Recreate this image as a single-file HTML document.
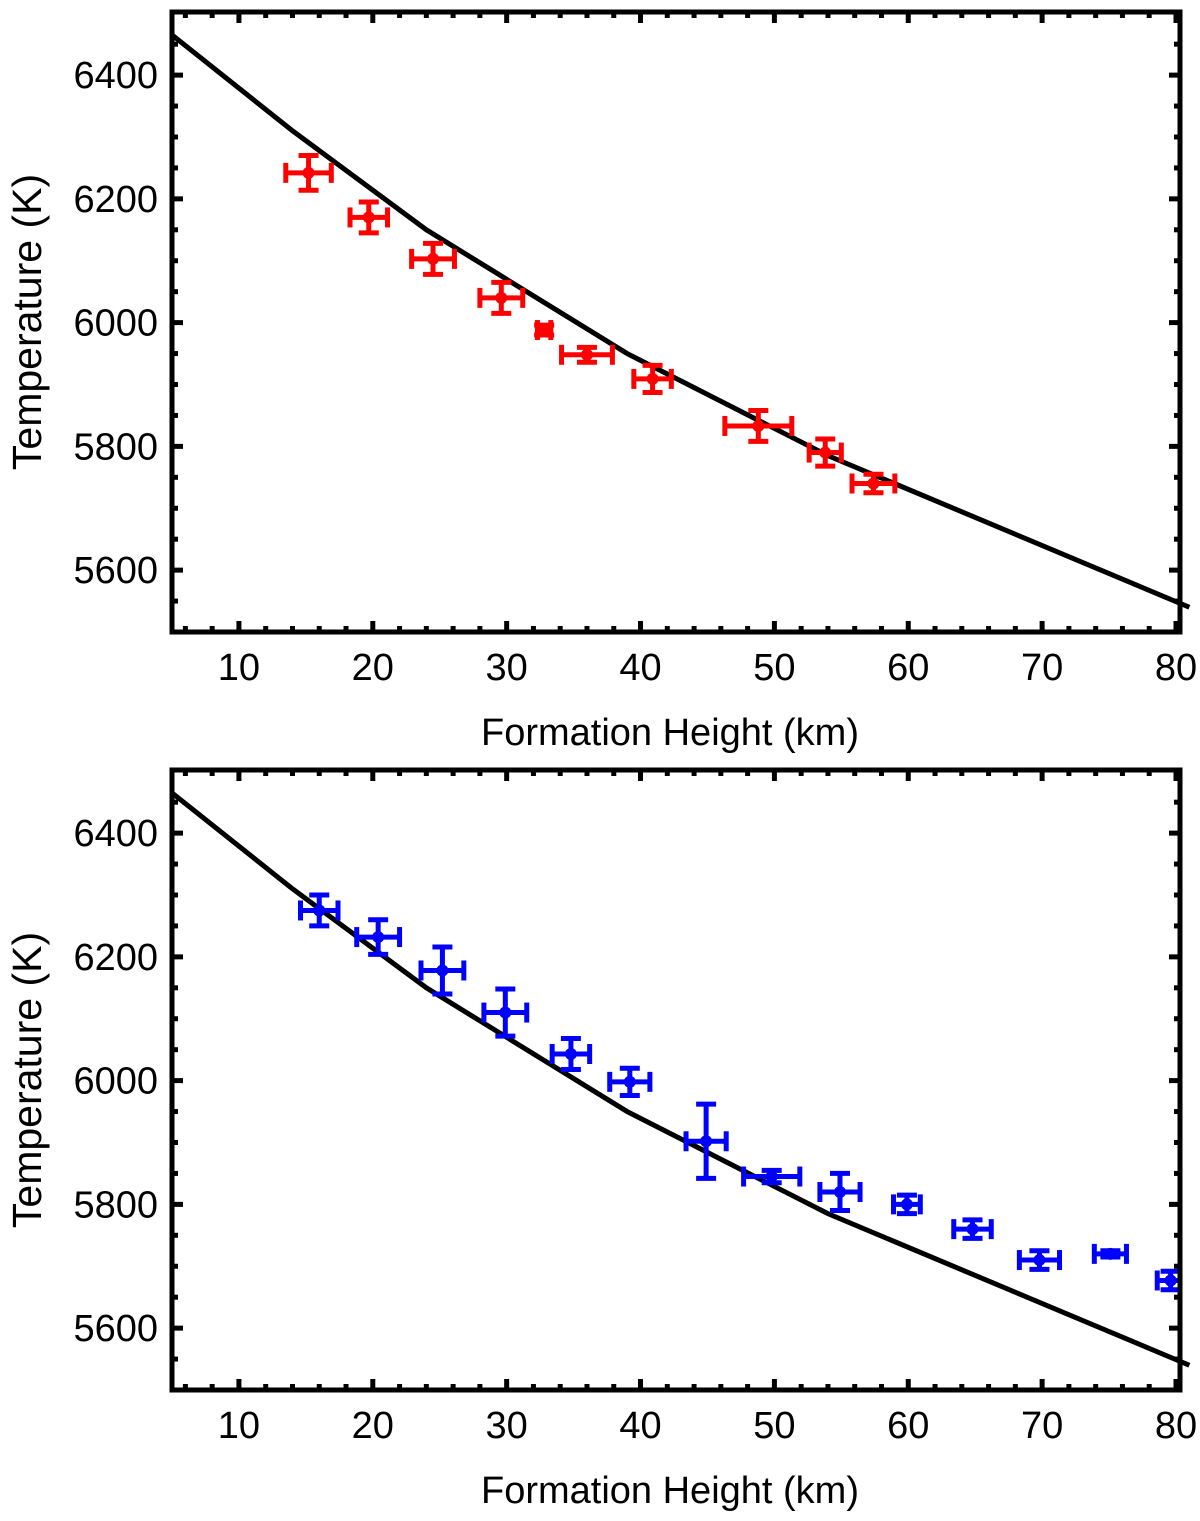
<!DOCTYPE html>
<html><head><meta charset="utf-8"><style>
body{margin:0;background:#fff;}
svg text{font-family:"Liberation Sans",sans-serif;}
</style></head><body>
<svg id="chart" width="1200" height="1516" viewBox="0 0 1200 1516" xmlns="http://www.w3.org/2000/svg"></svg>
<script>
const xTicks=[10,20,30,40,50,60,70,80];
const yTicks=[5600,5800,6000,6200,6400];
const modelX=[5,14,24,39,54,81];
const modelT=[6465,6310,6150,5950,5785,5540];
const redX=[15.2,19.7,24.5,29.6,32.8,36,40.9,48.8,53.8,57.4];
const redT=[6242,6170,6103,6040,5988,5948,5909,5833,5790,5740];
const redXErr=[1.7,1.4,1.6,1.6,0.5,1.9,1.4,2.5,1.2,1.6];
const redTErr=[28,25,25,25,8,12,22,25,22,15];
const blueX=[16,20.4,25.2,29.9,34.8,39.2,44.9,49.8,54.9,59.9,64.8,69.8,75.1,79.6];
const blueT=[6275,6232,6178,6110,6043,5998,5902,5845,5820,5800,5760,5710,5720,5677];
const blueXErr=[1.4,1.6,1.6,1.6,1.4,1.5,1.5,2.1,1.5,1.0,1.4,1.5,1.2,1.0];
const blueTErr=[25,28,38,38,25,22,60,10,30,15,15,15,5,15];

const NS="http://www.w3.org/2000/svg";
const svg=document.getElementById('chart');
function mk(tag,attrs,parent){const e=document.createElementNS(NS,tag);for(const k in attrs)e.setAttribute(k,attrs[k]);(parent||svg).appendChild(e);return e;}
const L=172,R=1180;
function panel(name,top,xs,ts,xe,te,color){
  const bottom=top+620;
  const g=mk('g',{});
  
  
  const sx=v=>L+(v-5)*(R-L)/75.3;
  const sy=v=>bottom-(v-5500)*(bottom-top)/1002;
  const cp=mk('clipPath',{id:'c'+name},g);
  mk('rect',{x:L,y:top,width:R-L,height:bottom-top},cp);
  for(let v=6;v<=80;v+=2){const maj=v%10===0;const len=maj?11:6;const x=sx(v);
    mk('line',{x1:x,x2:x,y1:bottom,y2:bottom-len,stroke:'#000','stroke-width':5},g);
    mk('line',{x1:x,x2:x,y1:top,y2:top+len,stroke:'#000','stroke-width':5},g);}
  for(let v=5550;v<=6450;v+=50){const maj=v%200===0;const len=maj?11:6;const y=sy(v);
    mk('line',{x1:L,x2:L+len,y1:y,y2:y,stroke:'#000','stroke-width':5},g);
    mk('line',{x1:R,x2:R-len,y1:y,y2:y,stroke:'#000','stroke-width':5},g);}
  xTicks.forEach(v=>{const t=mk('text',{x:sx(v),y:bottom+48,'font-size':38,'text-anchor':'middle'},g);t.textContent=v;
    });
  yTicks.forEach(v=>{const t=mk('text',{x:L-14,y:sy(v)+13,'font-size':38,'text-anchor':'end'},g);t.textContent=v;
    });
  const xt=mk('text',{x:670,y:bottom+113,'font-size':38,'text-anchor':'middle'},g);xt.textContent='Formation Height (km)';
  
  const yt=mk('text',{x:0,y:0,'font-size':41,'text-anchor':'middle',transform:`translate(41,${(top+bottom)/2}) rotate(-90)`},g);yt.textContent='Temperature (K)';
  
  const ml=mk('polyline',{points:modelX.map((x,i)=>sx(x)+','+sy(modelT[i])).join(' '),fill:'none',stroke:'#000','stroke-width':5},g);
  
  xs.forEach((x,i)=>{const pg=mk('g',{'clip-path':`url(#c${name})`,stroke:color,'stroke-width':5,fill:color},g);
    
    const cx=sx(x),cy=sy(ts[i]),x1=sx(x-xe[i]),x2=sx(x+xe[i]),y1=sy(ts[i]+te[i]),y2=sy(ts[i]-te[i]);
    mk('line',{x1:x1,x2:x2,y1:cy,y2:cy},pg);
    mk('line',{x1:x1,x2:x1,y1:cy-10,y2:cy+10},pg);
    mk('line',{x1:x2,x2:x2,y1:cy-10,y2:cy+10},pg);
    mk('line',{x1:cx,x2:cx,y1:y1,y2:y2},pg);
    mk('line',{x1:cx-10,x2:cx+10,y1:y1,y2:y1},pg);
    mk('line',{x1:cx-10,x2:cx+10,y1:y2,y2:y2},pg);
    mk('circle',{cx:cx,cy:cy,r:6,stroke:'none'},pg);});
  const fr=mk('rect',{x:L,y:top,width:R-L,height:bottom-top,fill:'none',stroke:'#000','stroke-width':5},g);
  
}
panel('top-panel',12,redX,redT,redXErr,redTErr,'#ff0000');
panel('bottom-panel',770,blueX,blueT,blueXErr,blueTErr,'#0000ff');
</script>
</body></html>
